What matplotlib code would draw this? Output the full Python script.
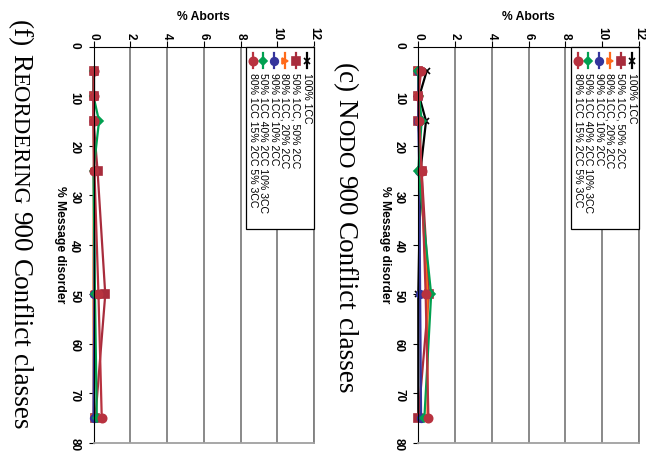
import numpy as np
import matplotlib.pyplot as plt
from matplotlib.patches import Rectangle

disorder = [5, 10, 15, 25, 50, 75]
mixes = ['100% 1CC', '50% 1CC, 50% 2CC', '80% 1CC, 20% 2CC', '90% 1CC 10% 2CC',
         '50% 1CC 40% 2CC 10% 3CC', '80% 1CC 15% 2CC 5% 3CC']

# (f) REORDERING, % aborts
reord_100 = [0, 0, 0, 0, 0, 0]
reord_50_50 = [0, 0, 0, 0.22, 0.64, 0.1]
reord_80_20 = [0, 0, 0, 0.02, 0, 0.02]
reord_90_10 = [0, 0, 0.02, 0.03, 0.05, 0]
reord_50_40_10 = [0, 0, 0.3, 0, 0.08, 0.18]
reord_80_15_5 = [0, 0, 0, 0.05, 0.27, 0.45]

# (c) NODO, % aborts
nodo_100 = [0.45, 0.05, 0.42, 0.12, 0, 0]
nodo_50_50 = [0, 0, 0, 0.18, 0.58, 0]
nodo_80_20 = [0, 0, 0.05, 0.1, 0.5, 0.5]
nodo_90_10 = [0, 0, 0, 0.05, 0.1, 0.15]
nodo_50_40_10 = [0, 0.05, 0.18, 0, 0.7, 0.33]
nodo_80_15_5 = [0.15, 0, 0.05, 0.18, 0.4, 0.55]

colors = ['black', '#a82c3c', '#ff6a1a', '#34349c', '#00a050', '#b8323f']
markers = ['x', 's', '>', 'o', 'D', 'o']
msizes = [5, 6, 5, 5.5, 4.5, 6]

W, H = 646, 455
fig = plt.figure(figsize=(W / 100, H / 100), dpi=100)
plt.rcParams['font.family'] = 'Liberation Sans'


def panel(x0px, series):
    ax = fig.add_axes([x0px / W, 1 - 443 / H, 220.5 / W, (443 - 46.7) / H])
    for ys, c, m, ms in zip(series, colors, markers, msizes):
        ax.plot(ys, disorder, color=c, marker=m, markersize=ms, lw=1.6,
                mew=1.2, clip_on=False)
    ax.set_xlim(0, 12)
    ax.set_ylim(80, 0)
    ax.set_xticks(np.arange(0, 13, 2))
    ax.set_yticks(np.arange(0, 81, 10))
    ax.xaxis.tick_top()
    ax.grid(axis='x', color='#808080', lw=1.3)
    ax.set_axisbelow(True)
    ax.spines['right'].set_color('#808080')
    ax.spines['bottom'].set_color('#a0a0a0')
    ax.spines['right'].set_linewidth(1.3)
    ax.spines['bottom'].set_linewidth(1.3)
    ax.tick_params(axis='x', direction='out', length=4, pad=1, labelrotation=-90,
                   labelsize=8.5)
    ax.tick_params(axis='y', direction='out', length=3.5, pad=6, labelrotation=-90,
                   labelsize=8.5, right=False)
    for lab in ax.get_xticklabels() + ax.get_yticklabels():
        lab.set_fontweight('bold')
    ax.text(0.5, 1.075, '% Aborts', transform=ax.transAxes, ha='center',
            va='center', fontsize=8.7, fontweight='bold')
    ax.text(-0.152, 0.5, '% Message disorder', transform=ax.transAxes,
            ha='center', va='center', rotation=-90, fontsize=8.7,
            fontweight='bold')

    # legend, drawn rotated like the rest of the page
    ax.add_patch(Rectangle((0.692, 0.54), 0.308, 0.46, transform=ax.transAxes,
                           facecolor='white', edgecolor='black', lw=0.9,
                           zorder=5, clip_on=False))
    cols = [0.968, 0.918, 0.868, 0.819, 0.769, 0.723]
    for xc, lab, c, m, ms in zip(cols, mixes, colors, markers, msizes):
        ax.plot([xc, xc], [0.984, 0.946], color=c, lw=1.6, transform=ax.transAxes,
                zorder=6, clip_on=False)
        ax.plot([xc], [0.965], color=c, marker=m, markersize=ms, mew=1.2,
                transform=ax.transAxes, zorder=6, clip_on=False)
        ax.text(xc, 0.934, lab, transform=ax.transAxes, rotation=-90,
                rotation_mode='anchor', ha='left', va='center', fontsize=7.6,
                zorder=7)
    return ax


panel(93.5, [reord_100, reord_50_50, reord_80_20, reord_90_10,
             reord_50_40_10, reord_80_15_5])
panel(418.3, [nodo_100, nodo_50_50, nodo_80_20, nodo_90_10,
              nodo_50_40_10, nodo_80_15_5])

# captions in small caps, built from pieces of two sizes
fig.canvas.draw()
rend = fig.canvas.get_renderer()


def width_of(s, size):
    t = fig.text(0, 0, s, fontsize=size, family='Liberation Serif')
    w = t.get_window_extent(rend).width
    t.remove()
    return w


def caption(xbase, yc, parts):
    sp = width_of('a a', 19.5) - width_of('aa', 19.5)
    widths = []
    for s, size in parts:
        widths.append(sp if s == ' ' else width_of(s, size))
    y = yc - sum(widths) / 2
    for (s, size), w in zip(parts, widths):
        if s != ' ':
            fig.text(xbase / W, 1 - y / H, s, fontsize=size,
                     family='Liberation Serif', rotation=-90,
                     rotation_mode='anchor', ha='left', va='baseline')
        y += w


caption(13, 225, [('(f)', 19.5), (' ', 0), ('R', 19.5), ('EORDERING', 16.5),
                  (' ', 0), ('900', 19.5), (' ', 0), ('Conflict', 19.5), (' ', 0),
                  ('classes', 19.5)])
caption(338, 228, [('(c)', 19.5), (' ', 0), ('N', 19.5), ('ODO', 16.5), (' ', 0),
                   ('900', 19.5), (' ', 0), ('Conflict', 19.5), (' ', 0),
                   ('classes', 19.5)])

fig.savefig('out.png', dpi=100)
